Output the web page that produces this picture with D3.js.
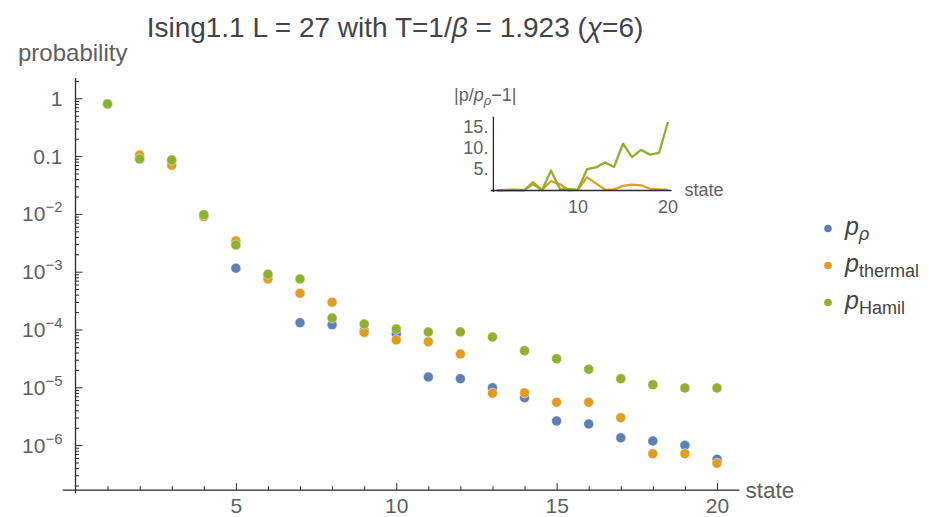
<!DOCTYPE html>
<html>
<head>
<meta charset="utf-8">
<script src="https://cdn.jsdelivr.net/npm/d3@7"></script>
<style>
  html, body { margin: 0; padding: 0; background: #fff; }
  svg { display: block; font-family: "Liberation Sans", Arial, sans-serif; }
</style>
</head>
<body>
<svg id="chart" width="929" height="517"></svg>
<script>
// ---- data -------------------------------------------------------------
const states = [1,2,3,4,5,6,7,8,9,10,11,12,13,14,15,16,17,18,19,20];
const pRho = [0.797, 0.090, 0.085, 0.0095, 0.00115, 8.6e-4, 1.31e-4, 1.21e-4, 9.5e-5, 8.4e-5,
              1.51e-5, 1.41e-5, 9.8e-6, 6.6e-6, 2.61e-6, 2.32e-6, 1.34e-6, 1.18e-6, 9.9e-7, 5.7e-7];
const pThermal = [0.797, 0.1045, 0.0693, 0.00895, 0.0034, 7.5e-4, 4.23e-4, 2.96e-4, 8.9e-5, 6.6e-5,
              6.15e-5, 3.77e-5, 7.9e-6, 8.0e-6, 5.5e-6, 5.5e-6, 2.98e-6, 7.1e-7, 7.1e-7, 4.84e-7];
const pHamil = [0.797, 0.089, 0.0857, 0.00968, 0.0029, 9.05e-4, 7.48e-4, 1.58e-4, 1.245e-4, 1.02e-4,
              9.05e-5, 9.05e-5, 7.4e-5, 4.3e-5, 3.12e-5, 2.05e-5, 1.41e-5, 1.11e-5, 9.72e-6, 9.72e-6];
const yTickExps = [0, -1, -2, -3, -4, -5, -6];
const xTickLabels = [5, 10, 15, 20];
const insetYTicks = [5, 10, 15];
const insetXTicks = [10, 20];

const colors = { rho: "#5E81B5", thermal: "#E19C24", hamil: "#8FB032" };
const tickText = "#5f5f5f";
const axisCol = "#2b2b2b";

const svg = d3.select("#chart");

// ---- main scales ------------------------------------------------------
const x = d3.scaleLinear().domain([0, 20]).range([75.5, 717]);
const y = d3.scaleLog().domain([1, 1e-6]).range([98.3, 445.1]);
const yBottom = 1.66e-7, yTop = 2.25;

// minor log ticks (2..9 per decade)
const minor = [];
for (let e = -7; e <= 0; e++) for (let m = 2; m <= 9; m++) {
  const v = m * Math.pow(10, e);
  if (v >= yBottom && v <= yTop) minor.push(v);
}

const gy = svg.append("g").attr("transform", `translate(${x(0)},0)`);
gy.call(d3.axisLeft(y).tickValues(minor).tickSize(-3.5).tickSizeOuter(0).tickFormat(""));
gy.append("g").call(d3.axisLeft(y).tickValues(yTickExps.map(e => Math.pow(10, e)))
  .tickSize(-7).tickSizeOuter(0).tickFormat(""));
gy.selectAll(".domain").remove();
gy.selectAll("line").attr("stroke", axisCol).attr("stroke-width", 1);
gy.append("line").attr("x1", 0).attr("x2", 0)
  .attr("y1", y(yTop)).attr("y2", y(yBottom) + 3)
  .attr("stroke", axisCol).attr("stroke-width", 1.3);

// y tick labels: 1, 0.1, 10^-n
yTickExps.forEach(e => {
  const t = gy.append("text")
    .attr("x", -13).attr("y", y(Math.pow(10, e)) + 7.5)
    .attr("text-anchor", "end").attr("fill", tickText)
    .attr("font-size", 21);
  if (e === 0) t.text("1");
  else if (e === -1) t.text("0.1");
  else {
    t.append("tspan").text("10");
    t.append("tspan").attr("dy", -9).attr("font-size", 15).text("\u2212" + (-e));
  }
});

// x axis
const xAxisY = y(yBottom);
const gx = svg.append("g").attr("transform", `translate(0,${xAxisY})`);
gx.call(d3.axisBottom(x).tickValues(d3.range(1, 21).filter(v => v % 5 !== 0))
  .tickSize(-4).tickSizeOuter(0).tickFormat(""));
gx.append("g").call(d3.axisBottom(x).tickValues(xTickLabels)
  .tickSize(-7).tickSizeOuter(0).tickFormat(d => d).tickPadding(6));
gx.selectAll(".domain").remove();
gx.selectAll("line").attr("stroke", axisCol).attr("stroke-width", 1);
gx.selectAll("text").attr("font-size", 21).attr("fill", tickText)
  .attr("font-family", "Liberation Sans, Arial, sans-serif").attr("dy", "0.95em").attr("y", 3);
gx.append("line").attr("x1", x(-0.4)).attr("x2", x(20.7)).attr("y1", 0).attr("y2", 0)
  .attr("stroke", axisCol).attr("stroke-width", 1.3);

// axis titles
svg.append("text").attr("x", 18).attr("y", 61).attr("font-size", 24)
  .attr("fill", tickText).text("probability");
svg.append("text").attr("x", x(20.7) + 6).attr("y", xAxisY + 8).attr("font-size", 22.5)
  .attr("fill", tickText).text("state");

// title
const title = svg.append("text").attr("x", 395).attr("y", 37)
  .attr("text-anchor", "middle").attr("font-size", 28).attr("fill", "#444");
title.append("tspan").text("Ising1.1 L = 27 with T=1/");
title.append("tspan").attr("font-style", "italic").text("\u03B2");
title.append("tspan").text(" = 1.923 (");
title.append("tspan").attr("font-style", "italic").text("\u03C7");
title.append("tspan").text("=6)");

// ---- points -----------------------------------------------------------
const series = [
  { key: "rho", values: pRho },
  { key: "thermal", values: pThermal },
  { key: "hamil", values: pHamil }
];
series.forEach(s => {
  svg.append("g").selectAll("circle")
    .data(states.map((st, i) => [st, s.values[i]]))
    .join("circle")
    .attr("cx", d => x(d[0])).attr("cy", d => y(d[1])).attr("r", 5)
    .attr("fill", colors[s.key])
    .attr("stroke", "#fff").attr("stroke-opacity", 0.6).attr("stroke-width", 0.8);
});

// ---- legend -----------------------------------------------------------
const legend = [
  { key: "rho", sub: "\u03C1", italicSub: true },
  { key: "thermal", sub: "thermal", italicSub: false },
  { key: "hamil", sub: "Hamil", italicSub: false }
];
legend.forEach((l, i) => {
  const ly = 228.5 + i * 37;
  svg.append("circle").attr("cx", 828).attr("cy", ly).attr("r", 3.8).attr("fill", colors[l.key]);
  const t = svg.append("text").attr("x", 845).attr("y", ly + 6)
    .attr("font-size", 25).attr("fill", "#444");
  t.append("tspan").attr("font-style", "italic").text("p");
  t.append("tspan").attr("dy", 5).attr("font-size", 18)
    .attr("font-style", l.italicSub ? "italic" : "normal").text(l.sub);
});

// ---- inset: |p / p_rho - 1| -------------------------------------------
const ix = d3.scaleLinear().domain([1, 20]).range([497, 668]);
const iy = d3.scaleLinear().domain([0, 15]).range([190.5, 126.5]);
const inset = svg.append("g");

const devThermal = states.map((st, i) => [st, Math.abs(pThermal[i] / pRho[i] - 1)]);
const devHamil = states.map((st, i) => [st, Math.abs(pHamil[i] / pRho[i] - 1)]);
const line = d3.line().x(d => ix(d[0])).y(d => iy(d[1]));

inset.append("path").datum(devThermal).attr("d", line)
  .attr("fill", "none").attr("stroke", colors.thermal).attr("stroke-width", 2.3)
  .attr("stroke-linejoin", "round");
inset.append("path").datum(devHamil).attr("d", line)
  .attr("fill", "none").attr("stroke", colors.hamil).attr("stroke-width", 2.3)
  .attr("stroke-linejoin", "round");

const iAxisX = ix(0.6);
inset.append("line").attr("x1", iAxisX).attr("x2", iAxisX)
  .attr("y1", iy(0) + 1.5).attr("y2", iy(17.3))
  .attr("stroke", axisCol).attr("stroke-width", 1.3);
inset.append("line").attr("x1", ix(0.3)).attr("x2", ix(20.4))
  .attr("y1", iy(0)).attr("y2", iy(0))
  .attr("stroke", axisCol).attr("stroke-width", 1.3);

insetYTicks.forEach(v => {
  inset.append("text").attr("x", iAxisX - 5).attr("y", iy(v) + 6)
    .attr("text-anchor", "end").attr("font-size", 18).attr("fill", tickText).text(v + ".");
});
insetXTicks.forEach(v => {
  inset.append("text").attr("x", ix(v)).attr("y", iy(0) + 22)
    .attr("text-anchor", "middle").attr("font-size", 18).attr("fill", tickText).text(v);
});
inset.append("text").attr("x", ix(20.4) + 13).attr("y", iy(0) + 5)
  .attr("font-size", 18).attr("fill", tickText).text("state");

const il = inset.append("text").attr("x", 454).attr("y", 101)
  .attr("font-size", 18).attr("fill", tickText);
il.append("tspan").text("|p/");
il.append("tspan").attr("font-style", "italic").text("p");
il.append("tspan").attr("dy", 4).attr("font-size", 13).attr("font-style", "italic").text("\u03C1");
il.append("tspan").attr("dy", -4).text("\u22121|");
</script>
</body>
</html>
